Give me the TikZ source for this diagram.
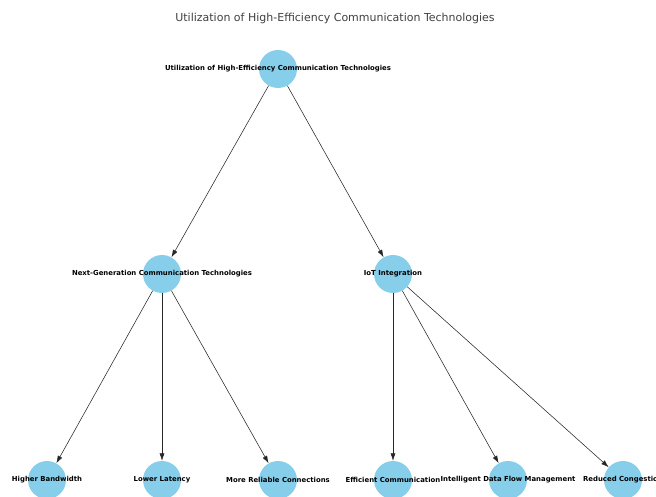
\documentclass[tikz,border=0pt]{standalone}
\usepackage{fontspec}
\setmainfont{DejaVu Sans}
\usetikzlibrary{arrows.meta}
\definecolor{skyblue}{RGB}{135,206,235}
\definecolor{titlegray}{RGB}{64,64,64}
\tikzset{
  vert/.style={circle,fill=skyblue,draw=none,minimum size=38pt,inner sep=0pt},
  vlabel/.style={font=\fontsize{6.9}{8}\selectfont\bfseries,text=black},
  edge/.style={draw=black!85,line width=0.55pt,-{Latex[length=7.5pt,width=5pt]}}
}
\begin{document}
\begin{tikzpicture}[x=1pt,y=1pt,yscale=-1,xscale=1]
\clip (0,0) rectangle (656,497);
\useasboundingbox (0,0) rectangle (656,497);

% title
\node (title) at (335,18) [text=titlegray,font=\fontsize{11}{13}\selectfont] {Utilization of High-Efficiency Communication Technologies};

% nodes
\node [vert] (root) at (278,69) {};
\node [vert] (nextgen) at (162,274) {};
\node [vert] (iot) at (393,274) {};
\node [vert] (bandwidth) at (47,480) {};
\node [vert] (latency) at (162,480) {};
\node [vert] (reliable) at (278,480) {};
\node [vert] (efficient) at (393,480) {};
\node [vert] (dataflow) at (508,480) {};
\node [vert] (congestion) at (623,480) {};

% labels
\node [vlabel] at (root) {Utilization of High-Efficiency Communication Technologies};
\node [vlabel] at (nextgen) {Next-Generation Communication Technologies};
\node [vlabel] at (iot) {IoT Integration};
\node [vlabel] at (bandwidth) {Higher Bandwidth};
\node [vlabel] at (latency) {Lower Latency};
\node [vlabel] at (reliable) {More Reliable Connections};
\node [vlabel] at (efficient) {Efficient Communication};
\node [vlabel] at (dataflow) {Intelligent Data Flow Management};
\node [vlabel] at (congestion) {Reduced Congestion};

% edges
\draw [edge] (root) -- (nextgen);
\draw [edge] (root) -- (iot);
\draw [edge] (nextgen) -- (bandwidth);
\draw [edge] (nextgen) -- (latency);
\draw [edge] (nextgen) -- (reliable);
\draw [edge] (iot) -- (efficient);
\draw [edge] (iot) -- (dataflow);
\draw [edge] (iot) -- (congestion);
\end{tikzpicture}
\end{document}
